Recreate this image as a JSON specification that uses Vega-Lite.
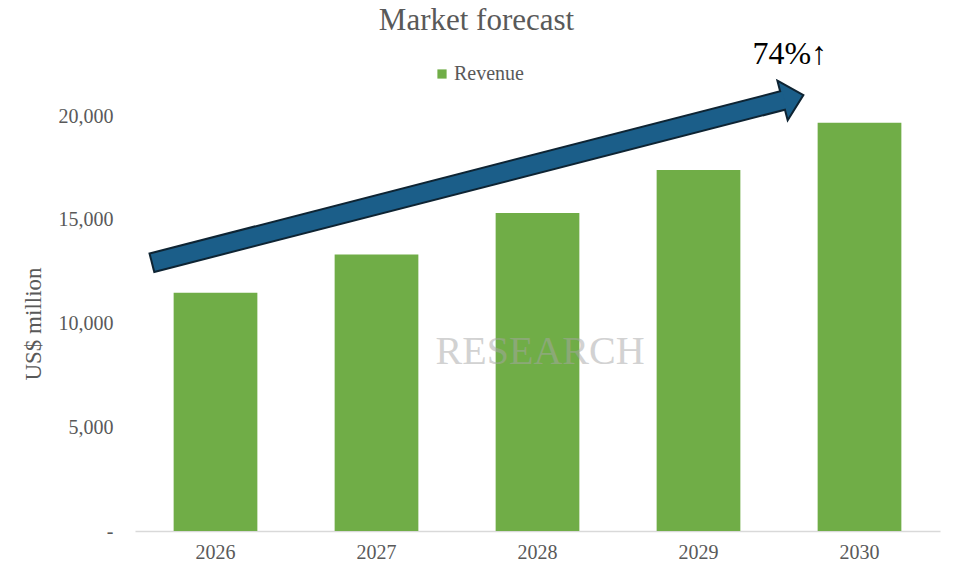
{
  "$schema": "https://vega.github.io/schema/vega-lite/v6.json",
  "width": 805,
  "height": 415,
  "autosize": {"type": "none"},
  "padding": {"left": 135, "top": 116, "right": 14, "bottom": 49},
  "background": "white",
  "config": {"view": {"stroke": null}, "font": "Liberation Serif"},
  "title": {"text": "Market forecast", "font": "Liberation Serif", "fontSize": 31, "fontWeight": "normal", "color": "#595959", "anchor": "middle", "dx": -61, "dy": 3, "offset": 4},
  "datasets": {
    "revenue": [
      {"year": "2026", "revenue": 11480, "series": "Revenue"},
      {"year": "2027", "revenue": 13330, "series": "Revenue"},
      {"year": "2028", "revenue": 15330, "series": "Revenue"},
      {"year": "2029", "revenue": 17400, "series": "Revenue"},
      {"year": "2030", "revenue": 19680, "series": "Revenue"}
    ],
    "arrowOuter": [
      {"ax": 2025.599, "ay": 12916},
      {"ax": 2029.522, "ay": 20747}
    ],
    "arrowInner": [
      {"ax": 2025.611, "ay": 12940},
      {"ax": 2029.534, "ay": 20771}
    ],
    "arrowHead": [
      {"ax": 2029.522, "ay": 20747}
    ],
    "labels": [
      {"ax": 2029.568, "ay": 22506, "label": "74%↑"}
    ],
    "watermark": [
      {"ax": 2028.016, "ay": 8627, "label": "RESEARCH"}
    ]
  },
  "layer": [
    {
      "data": {"name": "revenue"},
      "mark": {"type": "bar", "color": "#70AD47"},
      "encoding": {
        "x": {
          "field": "year", "type": "ordinal",
          "scale": {"paddingInner": 0.48, "paddingOuter": 0.24},
          "axis": {"title": null, "labelAngle": 0, "ticks": false, "domainColor": "#d9d9d9", "domainWidth": 1.5, "labelPadding": 11, "labelFont": "Liberation Serif", "labelFontSize": 20, "labelColor": "#595959"}
        },
        "y": {
          "field": "revenue", "type": "quantitative",
          "scale": {"domain": [0, 20000], "nice": false},
          "axis": {"values": [0, 5000, 10000, 15000, 20000], "grid": false, "ticks": false, "domain": false, "labelPadding": 22, "labelFont": "Liberation Serif", "labelFontSize": 20, "labelColor": "#595959", "labelExpr": "datum.value === 0 ? '-' : format(datum.value, ',')", "title": "US$ million", "titleFont": "Liberation Serif", "titleFontSize": 23, "titleFontWeight": "normal", "titleColor": "#595959", "titleX": -102, "titleY": 207.5, "titleAngle": -90, "titleAlign": "center", "titleBaseline": "middle"}
        },
        "color": {
          "field": "series", "type": "nominal",
          "scale": {"range": ["#70AD47"]},
          "legend": {"orient": "none", "legendX": 297, "legendY": -52, "title": null, "labelFont": "Liberation Serif", "labelFontSize": 20, "labelColor": "#595959", "symbolType": "square", "symbolSize": 85, "symbolStrokeWidth": 0, "symbolOpacity": 1, "labelOffset": 2}
        }
      }
    },
    {
      "layer": [
        {
          "data": {"name": "watermark"},
          "mark": {"type": "text", "font": "Liberation Serif", "fontSize": 40, "color": "#a6a6a6", "opacity": 0.5, "align": "center", "baseline": "middle"},
          "encoding": {
            "x": {"field": "ax", "type": "quantitative", "scale": {"domain": [2025.5, 2030.5], "nice": false, "zero": false}, "axis": null},
            "y": {"field": "ay", "type": "quantitative", "scale": {"domain": [0, 20000], "nice": false}},
            "text": {"field": "label"}
          }
        },
        {
          "data": {"name": "arrowOuter"},
          "mark": {"type": "line", "color": "#0e2433", "strokeWidth": 21, "strokeCap": "butt"},
          "encoding": {
            "x": {"field": "ax", "type": "quantitative", "scale": {"domain": [2025.5, 2030.5], "nice": false, "zero": false}, "axis": null},
            "y": {"field": "ay", "type": "quantitative", "scale": {"domain": [0, 20000], "nice": false}}
          }
        },
        {
          "data": {"name": "arrowHead"},
          "mark": {"type": "point", "shape": "M 0 -1 L 1.05 0 L 0 1 Z", "size": 1681, "angle": 345.5, "filled": true, "fill": "#1b5e89", "stroke": "#0e2433", "strokeWidth": 2, "strokeJoin": "miter", "opacity": 1},
          "encoding": {
            "x": {"field": "ax", "type": "quantitative", "scale": {"domain": [2025.5, 2030.5], "nice": false, "zero": false}, "axis": null},
            "y": {"field": "ay", "type": "quantitative", "scale": {"domain": [0, 20000], "nice": false}}
          }
        },
        {
          "data": {"name": "arrowInner"},
          "mark": {"type": "line", "color": "#1b5e89", "strokeWidth": 17, "strokeCap": "butt"},
          "encoding": {
            "x": {"field": "ax", "type": "quantitative", "scale": {"domain": [2025.5, 2030.5], "nice": false, "zero": false}, "axis": null},
            "y": {"field": "ay", "type": "quantitative", "scale": {"domain": [0, 20000], "nice": false}}
          }
        },
        {
          "data": {"name": "labels"},
          "mark": {"type": "text", "font": "Liberation Serif", "fontSize": 32, "color": "#000000", "align": "center", "baseline": "alphabetic"},
          "encoding": {
            "x": {"field": "ax", "type": "quantitative", "scale": {"domain": [2025.5, 2030.5], "nice": false, "zero": false}, "axis": null},
            "y": {"field": "ay", "type": "quantitative", "scale": {"domain": [0, 20000], "nice": false}},
            "text": {"field": "label"}
          }
        }
      ]
    }
  ],
  "resolve": {"scale": {"x": "independent"}}
}
